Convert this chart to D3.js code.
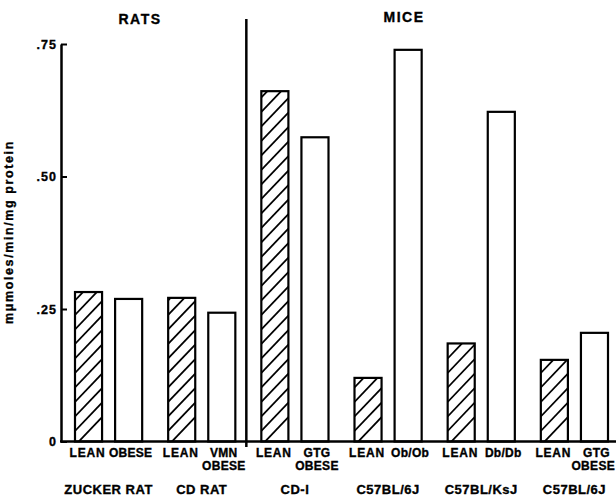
<!DOCTYPE html>
<html><head><meta charset="utf-8">
<script src="https://cdn.jsdelivr.net/npm/d3@7"></script>
<style>body{margin:0;background:#fff}svg{display:block}text{font-family:"Liberation Sans",Arial,sans-serif;font-weight:bold;fill:#000;stroke:#000;stroke-width:0.35px}</style>
</head><body><svg id="c" width="616" height="496"></svg>
<script>
const groups = ["ZUCKER RAT","CD RAT","CD-I","C57BL/6J","C57BL/KsJ","C57BL/6J"];
const leanLabels = ["LEAN","LEAN","LEAN","LEAN","LEAN","LEAN"];
const obeseLabels = [["OBESE"],["VMN","OBESE"],["GTG","OBESE"],["Ob/Ob"],["Db/Db"],["GTG","OBESE"]];
const leanValues = [0.282,0.271,0.661,0.120,0.185,0.154];
const obeseValues = [0.269,0.243,0.574,0.739,0.622,0.205];
const yTicks = [0,0.25,0.5,0.75];
const yTickLabels = ["0",".25",".50",".75"];
const sections = [{name:"RATS",groups:[0,1]},{name:"MICE",groups:[2,3,4,5]}];
const yTitle = "mμmoles/min/mg protein";

const W = 616;
const svg = d3.select("#c");
const y = d3.scaleLinear().domain([0,0.75]).range([441.5,44]);
const idx = groups.map((d,i)=>i);
const x0 = d3.scaleBand().domain(idx).range([62,621]).paddingInner(0);
const x1 = d3.scaleBand().domain(["lean","obese"]).range([13, x0.bandwidth()-13]).paddingInner(0.325).paddingOuter(0);
const defs = svg.append("defs");

const rows = idx.map(i=>({i, lean:leanValues[i], obese:obeseValues[i]}));
const g = svg.selectAll("g.grp").data(rows).join("g").attr("class","grp")
  .attr("transform",d=>`translate(${x0(d.i)},0)`);

// hatched lean bars: clip + diagonal lines
const hatchGap = 14.5;
g.each(function(d){
  const bx = x1("lean"), bw = x1.bandwidth(), yt = y(d.lean), yb = y(0);
  defs.append("clipPath").attr("id","clip"+d.i).append("rect")
    .attr("x",x0(d.i)+bx).attr("y",yt).attr("width",bw).attr("height",yb-yt);
  const n = Math.ceil((yb-yt+bw)/hatchGap)+1;
  const offs = d3.range(n).map(k=>yb+4-k*hatchGap);
  const hg = svg.append("g").attr("clip-path",`url(#clip${d.i})`);
  hg.selectAll("line").data(offs).join("line")
    .attr("x1",x0(d.i)+bx).attr("y1",o=>o).attr("x2",x0(d.i)+bx+bw).attr("y2",o=>o-bw*1.05)
    .attr("stroke","#000").attr("stroke-width",1.8);
});
g.raise();
g.append("rect").attr("x",x1("lean")).attr("width",x1.bandwidth())
  .attr("y",d=>y(d.lean)).attr("height",d=>y(0)-y(d.lean))
  .attr("fill","none").attr("stroke","#000").attr("stroke-width",2.2);
g.append("rect").attr("x",x1("obese")).attr("width",x1.bandwidth())
  .attr("y",d=>y(d.obese)).attr("height",d=>y(0)-y(d.obese))
  .attr("fill","#fff").attr("stroke","#000").attr("stroke-width",2.2);

// bar labels
g.append("text").attr("x",x1("lean")+x1.bandwidth()/2-1).attr("y",456.5).attr("text-anchor","middle")
  .attr("font-size",12).attr("letter-spacing",0.8).text(d=>leanLabels[d.i]);
g.each(function(d){
  const lines = obeseLabels[d.i];
  lines.forEach((t,k)=>{
    const tx = d3.select(this).append("text").attr("x",x1("obese")+x1.bandwidth()/2+2).attr("y",456.5+k*13.5)
      .attr("text-anchor","middle").attr("font-size",12).attr("letter-spacing",0.3).text(t);
    const bb = tx.node().getBBox();
    const right = x0(d.i) + bb.x + bb.width;
    if (right > W - 1) tx.attr("x", +tx.attr("x") - (right - (W - 1)));
  });
});
g.append("text").attr("x",x0.bandwidth()/2).attr("y",494).attr("text-anchor","middle")
  .attr("font-size",13).attr("letter-spacing",0.5).text(d=>groups[d.i]);

// y axis
const ax = svg.append("g").attr("transform","translate(61,0)")
  .call(d3.axisLeft(y).tickValues(yTicks).tickFormat((d,i)=>yTickLabels[i]).tickSizeInner(-6).tickSizeOuter(0).tickPadding(4));
ax.attr("font-family",null).attr("font-size",null);
ax.select(".domain").attr("stroke-width",2.5);
ax.selectAll(".tick line").attr("stroke-width",2);
ax.selectAll(".tick text").attr("font-size",12.5).attr("letter-spacing",1).attr("dy","0.35em");

// baseline
svg.append("line").attr("x1",60).attr("x2",616).attr("y1",y(0)).attr("y2",y(0)).attr("stroke","#000").attr("stroke-width",2.5);

// divider
const divX = x0(2)-2;
svg.append("line").attr("x1",divX).attr("x2",divX).attr("y1",19).attr("y2",447).attr("stroke","#000").attr("stroke-width",2.5);

// section titles
const titleX = [140,404];
sections.forEach((s,k)=>{
  svg.append("text").attr("x",titleX[k]).attr("y",k===0?23.5:21.5).attr("text-anchor","middle")
    .attr("font-size",14).attr("letter-spacing",1.5).text(s.name);
});

// y title
svg.append("text").attr("transform","translate(13,232) rotate(-90)").attr("text-anchor","middle")
  .attr("font-size",12.5).attr("letter-spacing",1.6).text(yTitle);
</script></body></html>
